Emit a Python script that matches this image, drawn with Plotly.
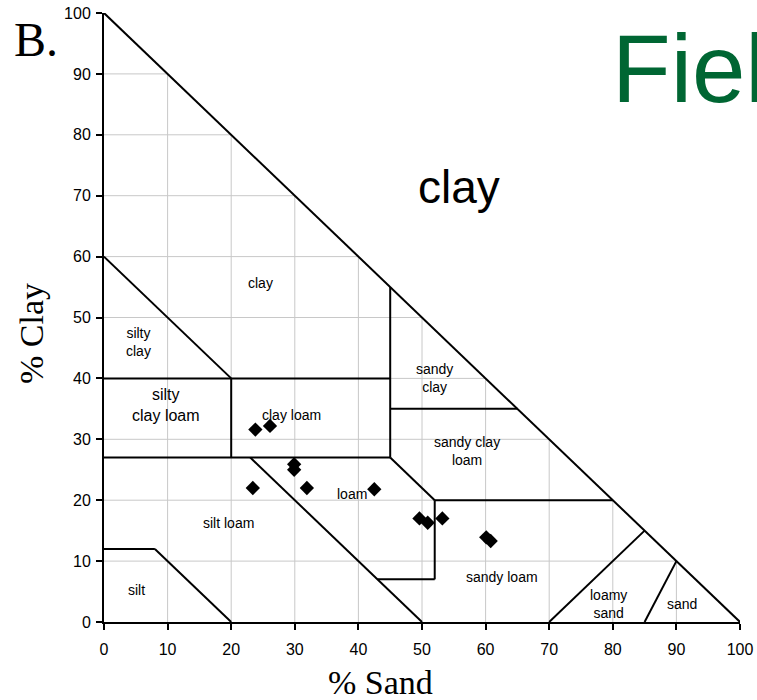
import plotly.graph_objects as go

# ---- data ----
sand = [23.8, 26.1, 29.9, 29.9, 23.4, 31.9, 42.5, 49.6, 50.9, 53.2, 60.1, 60.8]
clay = [31.6, 32.2, 25.9, 25.0, 22.0, 22.0, 21.8, 17.0, 16.3, 17.0, 13.9, 13.3]

tick_vals = [0, 10, 20, 30, 40, 50, 60, 70, 80, 90, 100]

# texture class boundary segments (sand, clay)
boundaries = [
    [(0, 100), (100, 0)],
    [(0, 60), (20, 40)],
    [(0, 40), (45, 40)],
    [(45, 27), (45, 55)],
    [(45, 35), (65, 35)],
    [(20, 27), (20, 40)],
    [(0, 27), (45, 27)],
    [(45, 27), (52, 20)],
    [(52, 20), (80, 20)],
    [(52, 7), (52, 20)],
    [(43, 7), (52, 7)],
    [(23, 27), (50, 0)],
    [(0, 12), (8, 12)],
    [(8, 12), (20, 0)],
    [(70, 0), (85, 15)],
    [(85, 0), (90, 10)],
]

class_labels = ["clay", "silty<br>clay", "silty<br>clay loam", "clay loam", "sandy<br>clay",
                "sandy clay<br>loam", "loam", "silt loam", "sandy loam", "silt",
                "loamy<br>sand", "sand"]
label_sand = [24.6, 5.4, 9.8, 29.5, 52.0, 57.0, 39.0, 19.5, 62.6, 5.1, 79.3, 90.9]
label_clay = [55.7, 46.0, 35.6, 34.0, 40.0, 28.0, 21.0, 16.3, 7.4, 5.3, 3.0, 3.0]
label_size = [14, 14, 16, 14, 14, 14, 14, 14, 14, 14, 14, 14]

W, H = 757, 700
ML, MR, MT, MB = 104, 17, 13, 78
PW, PH = W - ML - MR, H - MT - MB


def px_x(p):
    return (p - ML) / PW


def px_y(p):
    return (H - MB - p) / PH


fig = go.Figure()

shapes = []
# grid clipped to the triangle
for t in tick_vals[1:-1]:
    shapes.append(dict(type="line", xref="x", yref="y", x0=t, y0=0, x1=t, y1=100 - t,
                       line=dict(color="#c8c8c8", width=1), layer="below"))
    shapes.append(dict(type="line", xref="x", yref="y", x0=0, y0=t, x1=100 - t, y1=t,
                       line=dict(color="#c8c8c8", width=1), layer="below"))
for seg in boundaries:
    (xa, ya), (xb, yb) = seg
    shapes.append(dict(type="line", xref="x", yref="y", x0=xa, y0=ya, x1=xb, y1=yb,
                       line=dict(color="black", width=2)))

fig.add_trace(go.Scatter(x=sand, y=clay, mode="markers",
                         marker=dict(symbol="diamond", size=11, color="black"),
                         showlegend=False, cliponaxis=False))

ann = []
for t, sx, cy, fs in zip(class_labels, label_sand, label_clay, label_size):
    ann.append(dict(x=sx, y=cy, xref="x", yref="y", text=t, showarrow=False,
                    font=dict(family="Liberation Sans, Arial", size=fs, color="black"),
                    align="center"))
ann.append(dict(x=55.8, y=71.4, xref="x", yref="y", text="clay", showarrow=False,
                font=dict(family="Liberation Sans, Arial", size=46, color="black")))
ann.append(dict(x=px_x(12), y=px_y(40), xref="paper", yref="paper", text="B.",
                showarrow=False, xanchor="left", yanchor="middle",
                font=dict(family="Liberation Serif, Times New Roman", size=48, color="black")))
ann.append(dict(x=px_x(610), y=px_y(68), xref="paper", yref="paper", text="Fiel",
                showarrow=False, xanchor="left", yanchor="middle",
                font=dict(family="Liberation Sans, Arial", size=96, color="#006633")))
ann.append(dict(x=px_x(380), y=px_y(682), xref="paper", yref="paper", text="% Sand",
                showarrow=False, xanchor="center", yanchor="middle",
                font=dict(family="Liberation Serif, Times New Roman", size=34, color="black")))
ann.append(dict(x=px_x(31), y=px_y(334), xref="paper", yref="paper", text="% Clay",
                showarrow=False, xanchor="center", yanchor="middle", textangle=-90,
                font=dict(family="Liberation Serif, Times New Roman", size=34, color="black")))

axis_common = dict(range=[0, 100], tickvals=tick_vals, ticktext=[str(v) for v in tick_vals],
                   showgrid=False, zeroline=False, showline=True, linecolor="black",
                   linewidth=2, ticks="outside", ticklen=6, tickwidth=1.5, tickcolor="black",
                   automargin=False,
                   tickfont=dict(family="Liberation Sans, Arial", size=16, color="black"))

fig.update_layout(
    width=W, height=H,
    margin=dict(l=ML, r=MR, t=MT, b=MB, autoexpand=False),
    paper_bgcolor="white", plot_bgcolor="white",
    xaxis=dict(**axis_common, ticklabelstandoff=6),
    yaxis=dict(**axis_common, ticklabelstandoff=2),
    shapes=shapes,
    annotations=ann,
)

fig.write_html("out.html")
